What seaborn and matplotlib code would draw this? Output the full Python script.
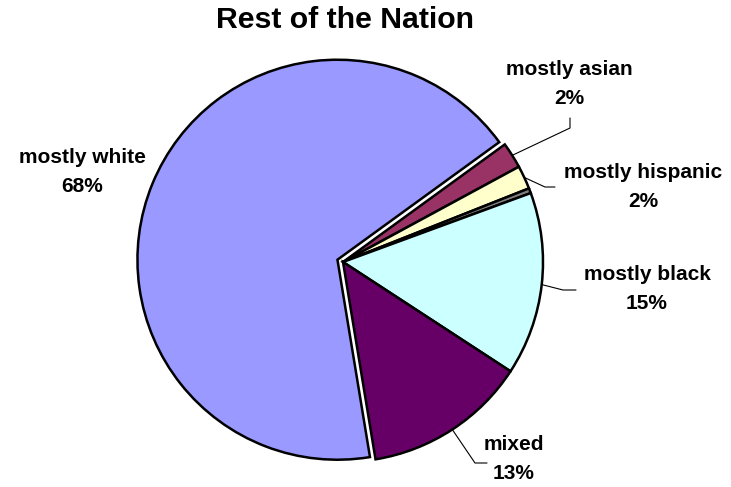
import numpy as np
import seaborn as sns
import matplotlib.pyplot as plt

# slices, clockwise from the top-right
groups = ['mostly asian', 'mostly hispanic', 'other', 'mostly black', 'mixed', 'mostly white']
shares = [2.1, 1.9, 0.4, 14.8, 13.2, 67.6]
shown = ['2%', '2%', '', '15%', '13%', '68%']
colors = ['#993366', '#FFFFCC', '#808080', '#CCFFFF', '#660066', '#9999FF']

sns.set_style('white')
plt.rcParams['font.family'] = ['Liberation Sans', 'DejaVu Sans']
plt.rcParams['text.color'] = 'black'

fig = plt.figure(figsize=(7.31, 4.87), dpi=100)
ax = fig.add_axes([0, 0, 1, 1])

explode = [0, 0, 0, 0, 0, 0.03]
wedges, _ = ax.pie(shares, colors=colors, startangle=36, counterclock=False,
                   explode=explode, radius=1.0,
                   wedgeprops=dict(edgecolor='black', linewidth=1.8))
# pie resets the limits, so set them afterwards
ax.set_aspect('auto')
ax.set_xlim(-1.715, 1.94)
ax.set_ylim(-1.125, 1.31)
ax.axis('off')

# label placement (text centre, elbow, line end) in axes data units
layout = {
    'mostly asian': ((1.13, 0.89), (1.135, 0.67), (1.135, 0.72)),
    'mostly hispanic': ((1.50, 0.375), (1.01, 0.375), (1.06, 0.375)),
    'mostly black': ((1.52, -0.135), (1.10, -0.14), (1.165, -0.14)),
    'mixed': ((0.855, -0.985), (0.66, -1.005), (0.72, -1.005)),
    'mostly white': ((-1.305, 0.45), None, None),
}

for w, g, s in zip(wedges, groups, shown):
    if g not in layout:
        continue
    txt, elbow, end = layout[g]
    ax.text(txt[0], txt[1], f'{g}\n{s}', ha='center', va='center',
            fontsize=15, fontweight='bold', linespacing=1.62, color='black')
    if elbow is None:
        continue
    mid = np.deg2rad((w.theta1 + w.theta2) / 2)
    cx, cy = w.center
    px, py = cx + np.cos(mid), cy + np.sin(mid)
    ax.plot([px, elbow[0], end[0]], [py, elbow[1], end[1]], color='black', lw=0.8)

fig.text(0.472, 0.959, 'Rest of the Nation', ha='center', va='center',
         fontsize=21.8, fontweight='bold', color='black')

fig.savefig('out.png', dpi=100)
